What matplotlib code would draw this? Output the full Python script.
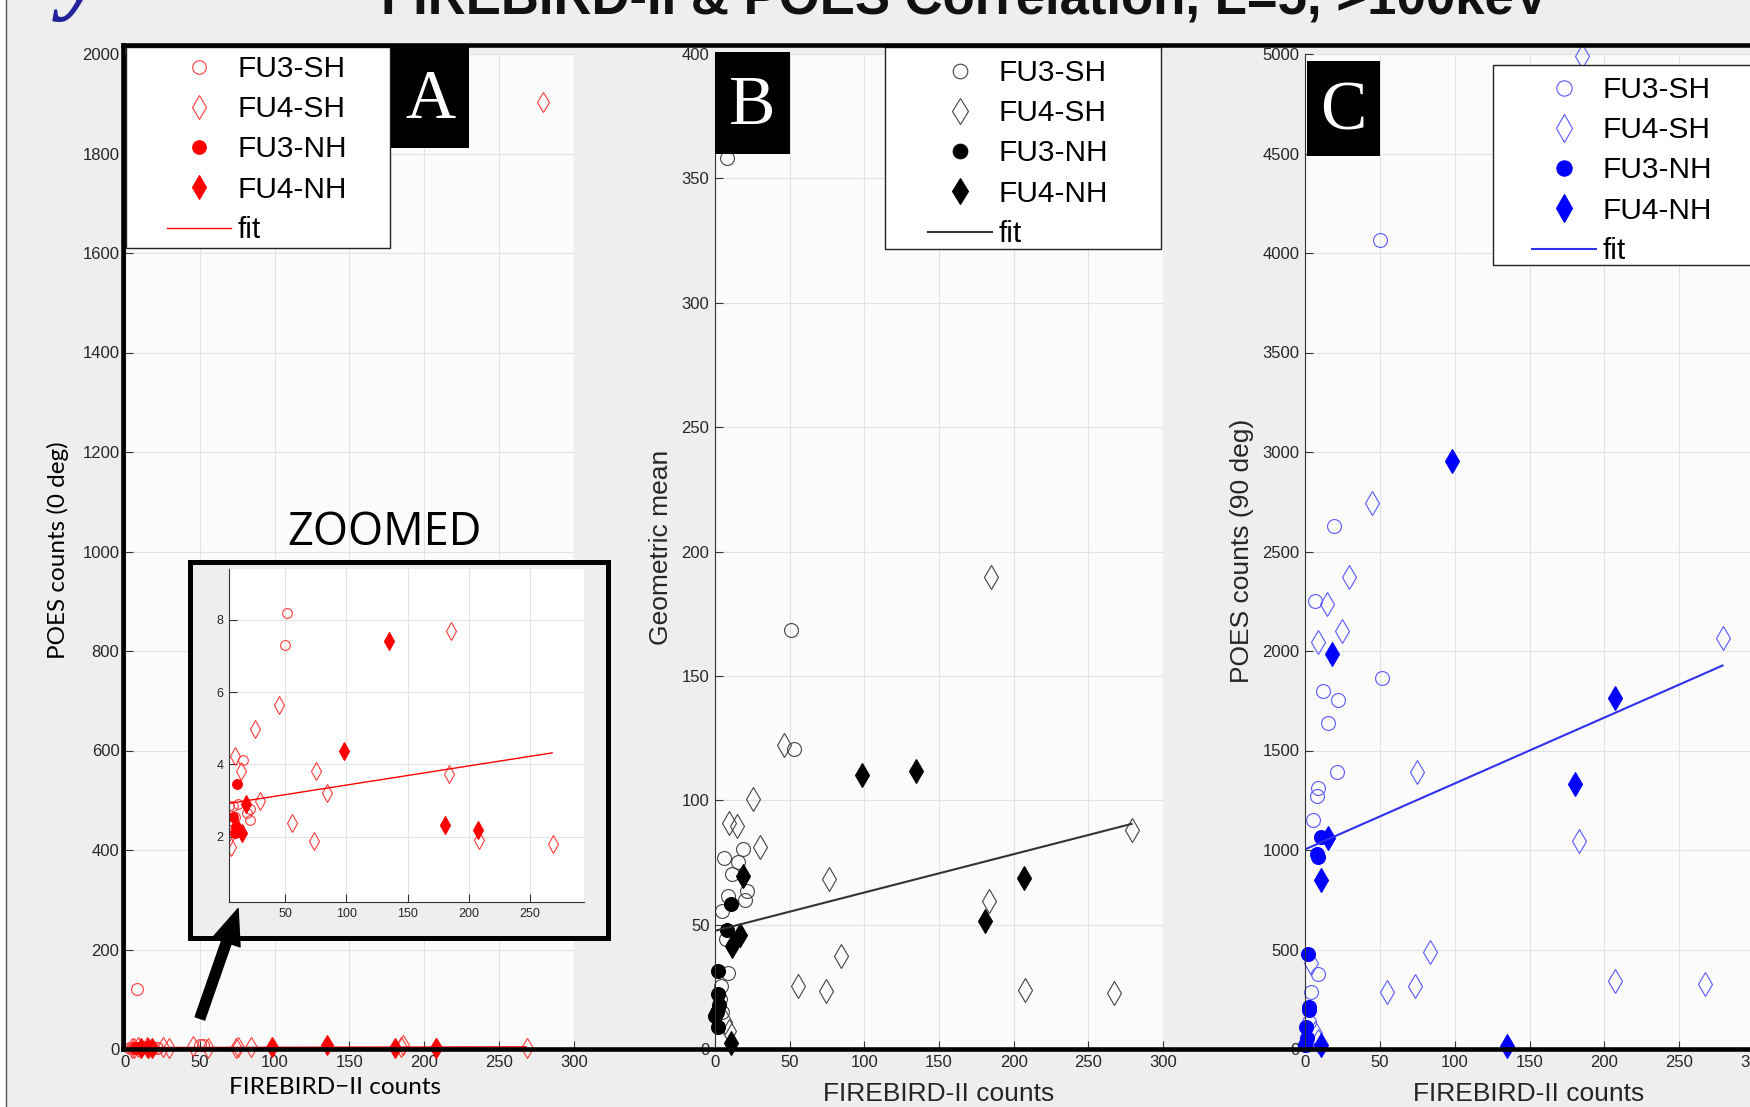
import matplotlib
matplotlib.use('Agg')
import matplotlib.pyplot as plt
from matplotlib.patches import Rectangle, FancyArrowPatch
from matplotlib.lines import Line2D

# --- Dados (painel A: POES 0 deg) ---
a_fu3sh_x = [51.9, 50.3, 15.8, 4.4, 7.6, 11.6, 3.6, 18.6, 21.3, 21.3, 9.0, 6.0, 8.2]
a_fu3sh_y = [8.18, 7.29, 4.12, 2.85, 2.85, 2.90, 2.35, 2.67, 2.76, 2.47, 2.56, 2.20, 121]
a_fu4sh_x = [185.8, 45.4, 25.4, 9.0, 14.5, 75.4, 184.2, 84.2, 29.5, 55.5, 74.0, 208.0, 268.6, 4.4, 6.3, 279]
a_fu4sh_y = [7.68, 5.65, 4.99, 4.22, 3.83, 3.82, 3.75, 3.20, 2.99, 2.38, 1.89, 1.90, 1.80, 1.98, 1.73, 1904]
a_fu3nh_x = [11.2, 7.6, 10.4, 9.0]
a_fu3nh_y = [3.47, 2.55, 2.26, 2.12]
a_fu4nh_x = [134.7, 98.4, 17.8, 180.6, 207.7, 15.3, 10.4]
a_fu4nh_y = [7.40, 4.36, 2.92, 2.32, 2.18, 2.12, 2.29]
a_fit_x = [0, 268]
a_fit_y = [2.9, 4.32]

# --- Painel B: média geométrica ---
b_fu3sh_x = [8.2, 50.8, 52.6, 6.2, 15.1, 18.9, 11.1, 8.4, 21.1, 20.4, 4.4, 7.1, 8.4, 3.8, 3.3, 4.4]
b_fu3sh_y = [358, 168.5, 120.7, 76.8, 75.2, 80.5, 70.5, 61.7, 63.4, 59.7, 55.3, 44.3, 30.5, 25.5, 20.1, 14.8]
b_fu4sh_x = [185.1, 46.0, 25.5, 30.1, 9.7, 14.6, 76.1, 183.8, 279, 84.2, 55.7, 74.5, 207.3, 267.5, 6.7, 9.3]
b_fu4sh_y = [189.9, 122.2, 100.4, 81.3, 91.0, 89.5, 68.2, 59.4, 88.0, 37.5, 25.3, 23.4, 23.8, 22.6, 10.7, 7.4]
b_fu3nh_x = [10.7, 7.8, 1.8, 1.8, 2.7, 1.1, 0.0, 1.8]
b_fu3nh_y = [58.4, 47.7, 31.3, 22.1, 17.7, 14.8, 13.4, 8.7]
b_fu4nh_x = [98.3, 134.5, 206.8, 180.5, 18.6, 16.6, 11.5, 11.0]
b_fu4nh_y = [110, 111.7, 68.9, 51.4, 69.4, 45.7, 41.6, 2.6]
b_fit_x = [0, 279]
b_fit_y = [47.5, 90.5]

# --- Painel C: POES 90 deg ---
c_fu3sh_x = [49.9, 19.5, 6.6, 51.6, 11.7, 21.8, 15.7, 21.1, 8.9, 7.7, 5.2, 8.7, 4.0, 3.0, 1.0]
c_fu3sh_y = [4064, 2628, 2251, 1863, 1800, 1754, 1636, 1391, 1313, 1269, 1151, 376, 285, 136, 20]
c_fu4sh_x = [185.2, 45.0, 29.3, 14.5, 24.6, 8.9, 279, 75.0, 183.3, 83.2, 4.0, 55.1, 73.6, 207.4, 267.5, 7.0, 9.0]
c_fu4sh_y = [4990, 2745, 2372, 2236, 2100, 2045, 2067, 1394, 1045, 487, 430, 287, 318, 342, 325, 82, 40]
c_fu3nh_x = [10.5, 8.2, 9.0, 2.3, 2.8, 2.8, 0.5, 1.6, 0.0]
c_fu3nh_y = [1064, 980, 965, 478, 209, 196, 109, 55, 18]
c_fu4nh_x = [98.0, 17.8, 207.0, 180.5, 15.7, 10.5, 10.5, 134.8]
c_fu4nh_y = [2957, 1987, 1763, 1331, 1060, 851, 18, 15]
c_fit_x = [0, 279]
c_fit_y = [1003, 1927]

serie_nomes = ['FU3-SH', 'FU4-SH', 'FU3-NH', 'FU4-NH', 'fit']

W, H = 1750, 1107
fig = plt.figure(figsize=(W / 100, H / 100), dpi=100)
fig.patch.set_facecolor('#eeeeee')


def fx(x):
    return x / W


def fy(y):
    return 1 - y / H


def caixa(x0, y0, x1, y1):
    # retângulo em pixels (origem no topo) -> fração da figura
    return [x0 / W, 1 - y1 / H, (x1 - x0) / W, (y1 - y0) / H]


def estilo_eixo(ax, xlim, ylim, xticks, yticks, tam=12):
    ax.set_xlim(*xlim)
    ax.set_ylim(*ylim)
    ax.set_xticks(xticks)
    ax.set_yticks(yticks)
    ax.set_facecolor('#fbfbfb')
    ax.grid(True, color='#e2e2e2', lw=0.8)
    ax.set_axisbelow(True)
    for s in ['top', 'right']:
        ax.spines[s].set_visible(False)
    for s in ['left', 'bottom']:
        ax.spines[s].set_color('#333333')
        ax.spines[s].set_linewidth(0.8)
    ax.tick_params(direction='in', length=6, width=0.8, colors='#333333',
                   labelsize=tam, pad=4)
    for lb in ax.get_xticklabels() + ax.get_yticklabels():
        lb.set_family('Liberation Sans')
        lb.set_color('#262626')


def desenhar(ax, dados, cor_aberta, cor_cheia, ms, lw_fit):
    (x1, y1), (x2, y2), (x3, y3), (x4, y4), (xf, yf) = dados
    h = []
    h += ax.plot(x1, y1, ls='none', marker='o', ms=ms, mfc='none', mec=cor_aberta, mew=0.8, clip_on=False)
    h += ax.plot(x2, y2, ls='none', marker='d', ms=ms * 1.25, mfc='none', mec=cor_aberta, mew=0.8, clip_on=False)
    h += ax.plot(x3, y3, ls='none', marker='o', ms=ms, mfc=cor_cheia, mec=cor_cheia, mew=0.8, clip_on=False)
    h += ax.plot(x4, y4, ls='none', marker='d', ms=ms * 1.25, mfc=cor_cheia, mec=cor_cheia, mew=0.8, clip_on=False)
    h += ax.plot(xf, yf, color=cor_cheia, lw=lw_fit)
    return h


def legenda(ax, handles, x_handle, y_topo, quadro, escala):
    x0, y0, x1, y1 = quadro
    ax.add_patch(Rectangle((fx(x0), fy(y1)), (x1 - x0) / W, (y1 - y0) / H,
                           transform=fig.transFigure, facecolor='white',
                           edgecolor='#222222', lw=1.0, zorder=20, clip_on=False))
    leg = ax.legend(handles, serie_nomes, loc='upper left',
                    bbox_to_anchor=(fx(x_handle), fy(y_topo)), bbox_transform=fig.transFigure,
                    frameon=False, borderpad=0, borderaxespad=0, handlelength=2.15,
                    handletextpad=0.22, labelspacing=0.41, markerscale=escala,
                    prop={'family': 'Liberation Sans', 'size': 21.5})
    leg.set_zorder(21)
    return leg


def rotulo_painel(letra, x0, y0, x1, y1):
    fig.add_artist(Rectangle((fx(x0), fy(y1)), (x1 - x0) / W, (y1 - y0) / H,
                             transform=fig.transFigure, facecolor='black',
                             edgecolor='none', zorder=5))
    fig.text(fx((x0 + x1) / 2), fy((y0 + y1) / 2 + 4), letra, color='white',
             family='Liberation Serif', fontsize=50, ha='center', va='center', zorder=6)


# faixa branca e linha na borda esquerda do slide
fig.add_artist(Rectangle((0, 0), fx(6), 1, transform=fig.transFigure,
                         facecolor='white', edgecolor='none'))
fig.add_artist(Line2D([fx(6), fx(6)], [0, 1], transform=fig.transFigure,
                      color='#555555', lw=1.0))

# título cortado no topo e logotipo
fig.text(fx(965), fy(13), 'FIREBIRD-II & POES Correlation, L=5, >100keV',
         ha='center', va='baseline', fontsize=38, weight='bold',
         family='Liberation Sans', color='#111111')
fig.text(fx(62), fy(1), 'y', ha='left', va='baseline', fontsize=70,
         style='italic', weight='bold', family='Liberation Serif', color='#23239a')

# --- Painel A ---
ax_a = fig.add_axes(caixa(125, 54, 574, 1049))
estilo_eixo(ax_a, (0, 300), (0, 2000), range(0, 301, 50), range(0, 2001, 200))
dados_a = [(a_fu3sh_x, a_fu3sh_y), (a_fu4sh_x, a_fu4sh_y), (a_fu3nh_x, a_fu3nh_y),
           (a_fu4nh_x, a_fu4nh_y), (a_fit_x, a_fit_y)]
h_a = desenhar(ax_a, dados_a, '#ff3b3b', '#ff0000', 8.5, 1.0)
legenda(ax_a, h_a, 167, 55, (126, 47, 390, 248), 1.15)
rotulo_painel('A', 391, 47, 469, 148)
fig.text(fx(335), fy(1088), 'FIREBIRD\u2212II counts', ha='center', va='center',
         family='Lato', fontsize=17.5)
fig.text(fx(58), fy(550), 'POES counts (0 deg)', ha='center', va='center',
         rotation=90, family='Lato', fontsize=17.5)

# --- Detalhe ampliado (inset) do painel A ---
fig.add_artist(Rectangle((fx(190), fy(938)), (608 - 190) / W, (938 - 562) / H,
                         transform=fig.transFigure, facecolor='#eeeeee',
                         edgecolor='black', lw=3.6, zorder=2))
ax_z = fig.add_axes(caixa(229, 569, 584, 902))
ax_z.set_zorder(3)
estilo_eixo(ax_z, (4.3, 294), (0.2, 9.4), range(50, 251, 50), [2, 4, 6, 8], tam=9)
ax_z.set_facecolor('white')
desenhar(ax_z, dados_a, '#ff3b3b', '#ff0000', 7, 1.0)
for ln in ax_z.lines:
    ln.set_clip_on(True)
fig.text(fx(384), fy(533), 'ZOOMED', ha='center', va='center',
         family='Open Sans', fontsize=32.5, color='black')
fig.add_artist(FancyArrowPatch((fx(199), fy(1021)), (fx(239), fy(906)),
                               transform=fig.transFigure, color='black',
                               arrowstyle='simple,head_length=1.6,head_width=1.3,tail_width=0.45',
                               mutation_scale=16, zorder=7))

# --- Painel B ---
ax_b = fig.add_axes(caixa(715, 54, 1163, 1049))
estilo_eixo(ax_b, (0, 300), (0, 400), range(0, 301, 50), range(0, 401, 50))
dados_b = [(b_fu3sh_x, b_fu3sh_y), (b_fu4sh_x, b_fu4sh_y), (b_fu3nh_x, b_fu3nh_y),
           (b_fu4nh_x, b_fu4nh_y), (b_fit_x, b_fit_y)]
h_b = desenhar(ax_b, dados_b, '#444444', '#000000', 10, 1.5)
h_b[-1].set_color('#333333')
legenda(ax_b, h_b, 928, 59, (885, 47, 1161, 249), 1.05)
rotulo_painel('B', 715, 52, 790, 154)
fig.text(fx(939), fy(1094), 'FIREBIRD-II counts', ha='center', va='center',
         family='Liberation Sans', fontsize=19, color='#262626')
fig.text(fx(661), fy(547), 'Geometric mean', ha='center', va='center',
         rotation=90, family='Liberation Sans', fontsize=19, color='#262626')

# --- Painel C ---
ax_c = fig.add_axes(caixa(1305, 54, 1754, 1049))
estilo_eixo(ax_c, (0, 300), (0, 5000), range(0, 301, 50), range(0, 5001, 500))
dados_c = [(c_fu3sh_x, c_fu3sh_y), (c_fu4sh_x, c_fu4sh_y), (c_fu3nh_x, c_fu3nh_y),
           (c_fu4nh_x, c_fu4nh_y), (c_fit_x, c_fit_y)]
h_c = desenhar(ax_c, dados_c, '#5a5aff', '#0000ff', 10, 1.5)
h_c[-1].set_color('#3030ee')
legenda(ax_c, h_c, 1532, 76, (1493, 65, 1760, 265), 1.1)
rotulo_painel('C', 1307, 61, 1380, 156)
fig.text(fx(1529), fy(1094), 'FIREBIRD-II counts', ha='center', va='center',
         family='Liberation Sans', fontsize=19, color='#262626')
fig.text(fx(1242), fy(551), 'POES counts (90 deg)', ha='center', va='center',
         rotation=90, family='Liberation Sans', fontsize=19, color='#262626')

# moldura preta grossa sobre os três painéis
for xs, ys in [([123, 1750], [45, 45]), ([123, 123], [45, 1049]), ([123, 1750], [1049, 1049])]:
    fig.add_artist(Line2D([fx(v) for v in xs], [fy(v) for v in ys],
                          transform=fig.transFigure, color='black', lw=3.3,
                          solid_capstyle='projecting', zorder=8))

fig.savefig('out.png', dpi=100, facecolor=fig.get_facecolor())
